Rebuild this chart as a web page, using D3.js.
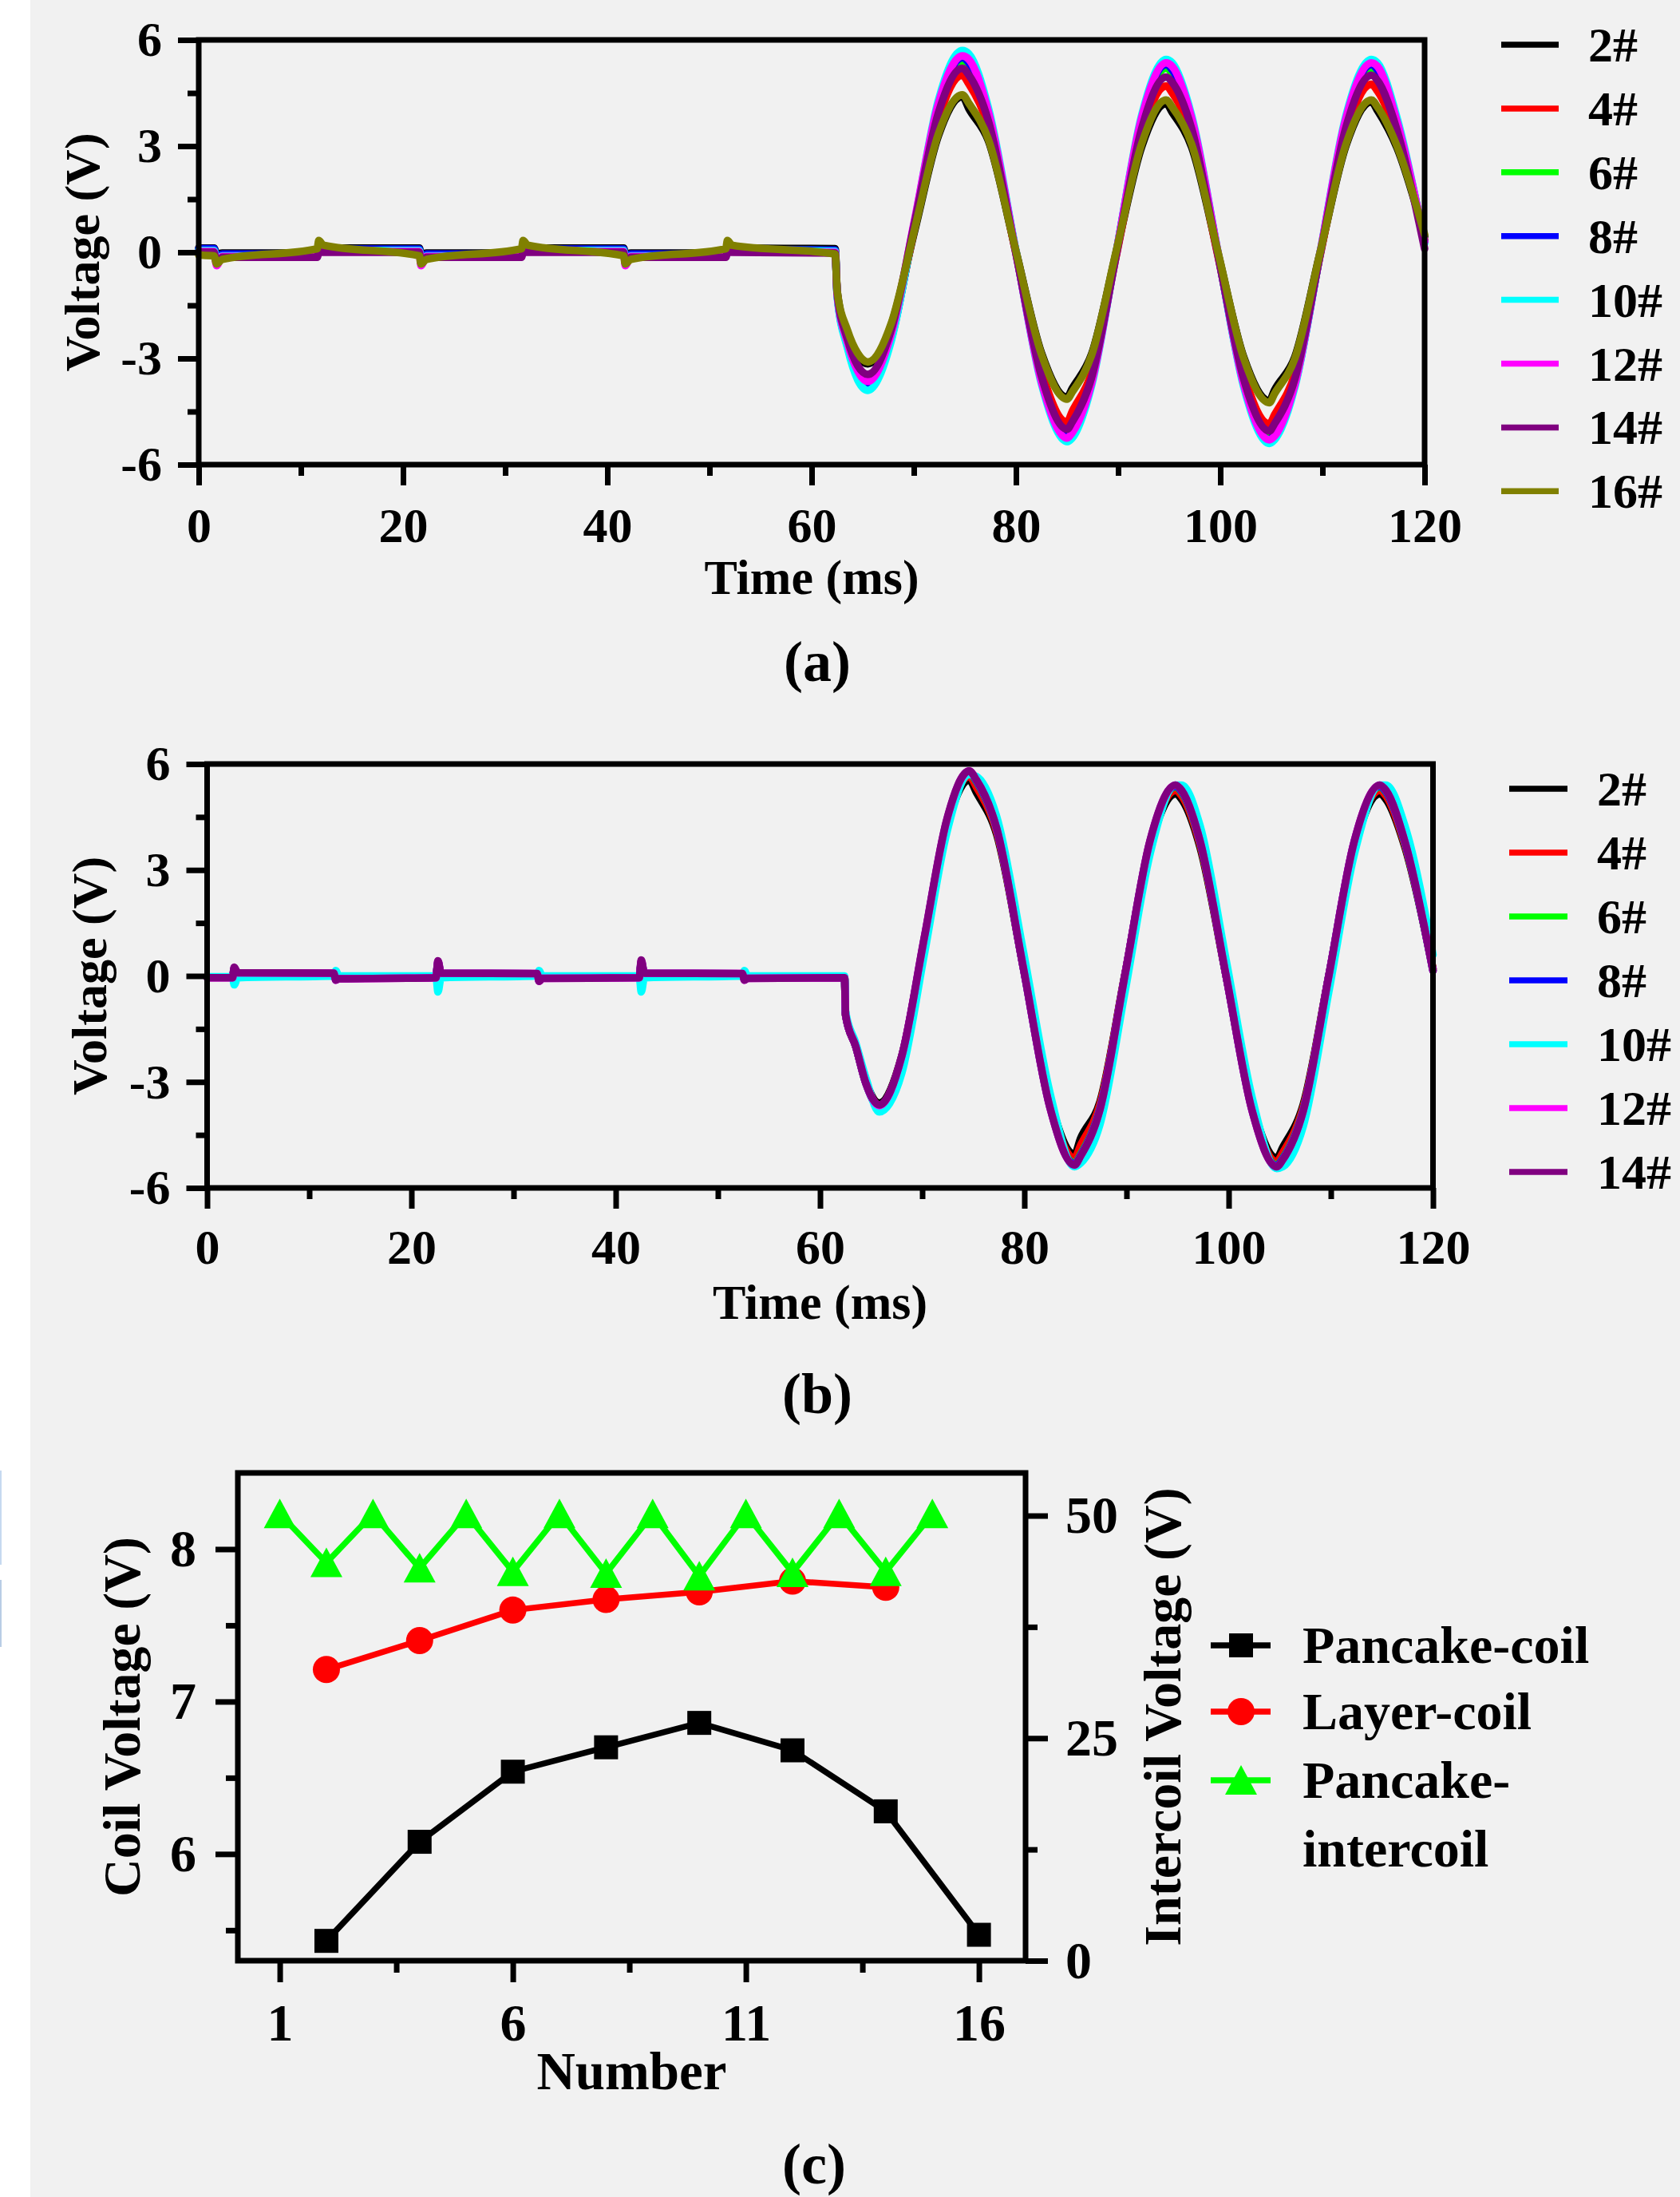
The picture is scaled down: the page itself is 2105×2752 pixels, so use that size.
<!DOCTYPE html>
<html>
<head>
<meta charset="utf-8">
<script src="https://cdn.jsdelivr.net/npm/d3@7"></script>
<style>
  body { margin: 0; background: #f1f1f1; }
  svg text { font-family: "Liberation Serif", "Times New Roman", serif; font-weight: bold; fill: #000; }
</style>
</head>
<body>
<svg id="fig" width="2105" height="2752"></svg>
<script>
/* DATA */
// coil labels of panels (a) and (b)
const coilsA = ["2#", "4#", "6#", "8#", "10#", "12#", "14#", "16#"];
const coilsB = ["2#", "4#", "6#", "8#", "10#", "12#", "14#"];

// panel (a): time (ms), flat part then the sine part
const timeA = [0, 1.5, 1.75, 2.3, 11.6, 11.75, 12.2, 21.6, 21.75, 22.3, 31.6, 31.75, 32.2, 41.6, 41.75, 42.3, 51.6, 51.75, 52.2, 62.3,
  62.5, 63.5, 64.5, 65.5, 67.8, 70.1, 72.4, 74.75, 75.4, 77.3, 79.9, 82.5, 85.0, 85.5, 87.4, 89.85, 92.3, 94.7, 95.3, 97.2, 99.75, 102.3, 104.8, 105.3, 107.3, 109.8, 112.3, 114.8, 115.4, 117.3, 120];

const vA2 = [0.12, 0.12, -0.05, -0.02, -0.02, 0.15, 0.12, 0.12, -0.05, -0.02, -0.02, 0.15, 0.12, 0.12, -0.05, -0.02, -0.02, 0.15, 0.12, 0.1,
  -1.1, -2.3, -2.95, -3.15, -2.04, 0.63, 3.29, 4.4, 4.05, 3.15, 0.15, -2.85, -4.1, -3.85, -2.88, 0.05, 2.98, 4.2, 3.95, 2.97, 0, -2.97, -4.2, -3.9, -2.96, 0.03, 3.01, 4.25, 4.0, 2.95, 0.45];
const vA4 = [0.06, 0.06, -0.12, -0.08, -0.08, 0.1, 0.06, 0.06, -0.12, -0.08, -0.08, 0.1, 0.06, 0.06, -0.12, -0.08, -0.08, 0.1, 0.06, 0.05,
  -1.15, -2.5, -3.3, -3.55, -2.3, 0.73, 3.75, 5.0, 4.75, 3.56, 0.1, -3.36, -4.8, -4.5, -3.41, -0.05, 3.31, 4.7, 4.5, 3.3, -0.08, -3.45, -4.85, -4.6, -3.44, -0.05, 3.34, 4.75, 4.55, 3.3, 0.35];
const vA6 = [0.08, 0.08, -0.15, -0.06, -0.06, 0.08, 0.08, 0.08, -0.15, -0.06, -0.06, 0.08, 0.08, 0.08, -0.15, -0.06, -0.06, 0.08, 0.08, 0.05,
  -1.2, -2.6, -3.45, -3.75, -2.41, 0.83, 4.06, 5.4, 5.25, 3.86, 0.15, -3.56, -5.1, -4.95, -3.59, 0.05, 3.69, 5.2, 5.05, 3.68, 0, -3.68, -5.2, -5.05, -3.68, 0, 3.68, 5.2, 5.05, 3.6, 0.3];
const vA8 = [0.1, 0.1, -0.15, -0.05, -0.05, 0.1, 0.09, 0.09, -0.15, -0.05, -0.05, 0.1, 0.09, 0.09, -0.15, -0.05, -0.05, 0.1, 0.09, 0.06,
  -1.2, -2.65, -3.5, -3.8, -2.44, 0.85, 4.14, 5.5, 5.35, 3.93, 0.15, -3.63, -5.2, -5.05, -3.66, 0.05, 3.76, 5.3, 5.15, 3.75, 0, -3.75, -5.3, -5.15, -3.75, 0, 3.75, 5.3, 5.15, 3.65, 0.3];
const vA10 = [0.05, 0.05, -0.18, -0.1, -0.1, 0.05, 0.05, 0.05, -0.18, -0.1, -0.1, 0.05, 0.05, 0.05, -0.18, -0.1, -0.1, 0.05, 0.05, 0.03,
  -1.25, -2.7, -3.6, -3.9, -2.49, 0.9, 4.29, 5.7, 5.6, 4.08, 0.18, -3.73, -5.35, -5.25, -3.77, 0.05, 3.87, 5.45, 5.35, 3.86, 0.03, -3.81, -5.4, -5.3, -3.81, 0.03, 3.86, 5.45, 5.35, 3.8, 0.25];
const vA12 = [0.02, 0.02, -0.38, -0.12, -0.12, 0.02, 0.02, 0.02, -0.38, -0.12, -0.12, 0.02, 0.02, 0.02, -0.38, -0.12, -0.12, 0.02, 0.02, 0.0,
  -1.2, -2.55, -3.35, -3.65, -2.3, 0.95, 4.2, 5.55, 5.45, 3.97, 0.15, -3.67, -5.25, -5.1, -3.7, 0.05, 3.8, 5.35, 5.25, 3.79, 0.03, -3.74, -5.3, -5.2, -3.74, 0.03, 3.79, 5.35, 5.25, 3.7, 0.3];
const vA14 = [0.0, 0.0, -0.3, -0.14, -0.14, 0.0, 0.0, 0.0, -0.3, -0.14, -0.14, 0.0, 0.0, 0.0, -0.3, -0.14, -0.14, 0.0, 0.0, -0.02,
  -1.15, -2.45, -3.2, -3.45, -2.18, 0.88, 3.93, 5.2, 5.0, 3.71, 0.1, -3.51, -5.0, -4.8, -3.54, -0.03, 3.49, 4.95, 4.8, 3.49, -0.05, -3.59, -5.05, -4.85, -3.58, -0.03, 3.53, 5.0, 4.85, 3.45, 0.1];
const vA16 = [-0.08, -0.1, -0.33, -0.2, 0.1, 0.33, 0.2, -0.1, -0.33, -0.2, 0.1, 0.33, 0.2, -0.1, -0.33, -0.2, 0.1, 0.33, 0.2, -0.05,
  -1.1, -2.2, -2.85, -3.1, -2.0, 0.68, 3.34, 4.45, 4.2, 3.19, 0.15, -2.89, -4.15, -3.95, -2.91, 0.08, 3.06, 4.3, 4.1, 3.05, 0.03, -3.0, -4.25, -4.0, -3.0, 0.03, 3.05, 4.3, 4.1, 3.0, 0.5];

// panel (b): time (ms)
const timeB = [0, 2.5, 2.65, 3.0, 12.4, 12.6, 12.9, 22.4, 22.6, 22.9, 32.3, 32.5, 32.8, 42.3, 42.5, 42.8, 52.4, 52.6, 52.9, 62.4,
  62.5, 63.5, 64.5, 65.8, 68.0, 70.2, 72.4, 74.6, 75.3, 77.3, 79.9, 82.5, 84.9, 85.5, 87.4, 89.85, 92.3, 94.8, 95.4, 97.2, 99.75, 102.3, 104.7, 105.3, 107.3, 109.8, 112.3, 114.8, 115.4, 117.3, 120];

const vB2 = [-0.03, -0.03, 0.2, 0.07, 0.06, -0.1, -0.06, -0.03, 0.35, 0.06, 0.05, -0.12, -0.05, -0.03, 0.35, 0.06, 0.05, -0.1, -0.05, -0.03,
  -1.1, -2.0, -3.0, -3.6, -2.26, 0.98, 4.21, 5.55, 5.2, 4.0, 0.25, -3.5, -5.05, -4.6, -3.56, 0.05, 3.66, 5.15, 5.0, 3.64, 0, -3.64, -5.15, -4.85, -3.64, 0, 3.64, 5.15, 5.0, 3.6, 0.2];
const vB4 = [-0.03, -0.03, 0.2, 0.07, 0.06, -0.1, -0.06, -0.03, 0.35, 0.06, 0.05, -0.12, -0.05, -0.03, 0.35, 0.06, 0.05, -0.1, -0.05, -0.03,
  -1.1, -2.0, -3.05, -3.65, -2.29, 1.0, 4.29, 5.65, 5.35, 4.07, 0.25, -3.57, -5.15, -4.8, -3.63, 0.05, 3.73, 5.25, 5.1, 3.71, 0, -3.71, -5.25, -5.0, -3.71, 0, 3.71, 5.25, 5.1, 3.65, 0.2];
const vB6 = [-0.04, -0.04, 0.2, 0.08, 0.07, -0.1, -0.07, -0.04, 0.38, 0.07, 0.06, -0.13, -0.06, -0.04, 0.38, 0.07, 0.06, -0.11, -0.06, -0.04,
  -1.1, -2.0, -3.05, -3.7, -2.32, 1.03, 4.37, 5.75, 5.5, 4.13, 0.23, -3.68, -5.3, -5.05, -3.74, 0.03, 3.79, 5.35, 5.2, 3.78, 0, -3.78, -5.35, -5.15, -3.78, 0, 3.78, 5.35, 5.2, 3.7, 0.15];
const vB8 = [-0.04, -0.04, 0.22, 0.08, 0.07, -0.11, -0.07, -0.04, 0.4, 0.07, 0.06, -0.14, -0.06, -0.04, 0.4, 0.07, 0.06, -0.11, -0.06, -0.04,
  -1.1, -2.0, -3.05, -3.7, -2.3, 1.04, 4.38, 5.78, 5.52, 4.15, 0.23, -3.7, -5.32, -5.08, -3.76, 0.03, 3.8, 5.37, 5.22, 3.8, 0, -3.8, -5.37, -5.17, -3.8, 0, 3.8, 5.37, 5.22, 3.72, 0.15];
const vB10 = [-0.02, -0.02, -0.25, -0.05, 0.0, 0.15, 0.0, 0.0, -0.45, -0.05, 0.0, 0.15, 0.0, 0.0, -0.45, -0.05, 0.0, 0.15, 0.0, 0.0,
  -1.0, -1.9, -2.9, -3.85, -2.75, 0.6, 4.05, 5.7, 5.65, 4.5, 0.7, -3.3, -5.4, -5.3, -4.2, -0.45, 3.45, 5.4, 5.4, 4.25, 0.45, -3.45, -5.45, -5.4, -4.25, -0.45, 3.45, 5.4, 5.4, 4.2, 0.6];
const vB12 = [-0.05, -0.05, 0.23, 0.09, 0.08, -0.12, -0.08, -0.05, 0.42, 0.08, 0.07, -0.15, -0.07, -0.05, 0.43, 0.08, 0.07, -0.12, -0.07, -0.05,
  -1.1, -2.0, -3.05, -3.67, -2.28, 1.07, 4.4, 5.8, 5.55, 4.16, 0.23, -3.72, -5.35, -5.1, -3.78, 0.03, 3.82, 5.4, 5.25, 3.82, 0, -3.82, -5.4, -5.2, -3.82, 0, 3.82, 5.4, 5.25, 3.75, 0.15];
const vB14 = [-0.05, -0.05, 0.25, 0.09, 0.08, -0.12, -0.08, -0.05, 0.43, 0.08, 0.07, -0.15, -0.07, -0.05, 0.45, 0.08, 0.07, -0.12, -0.07, -0.05,
  -1.1, -2.0, -3.05, -3.65, -2.27, 1.08, 4.42, 5.8, 5.55, 4.17, 0.23, -3.72, -5.35, -5.1, -3.78, 0.03, 3.83, 5.4, 5.25, 3.82, 0, -3.82, -5.4, -5.2, -3.82, 0, 3.82, 5.4, 5.25, 3.75, 0.15];

// panel (c)
const numPancake = [2, 4, 6, 8, 10, 12, 14, 16];
const pancakeCoil = [5.43, 6.08, 6.54, 6.70, 6.86, 6.68, 6.28, 5.47];
const numLayer = [2, 4, 6, 8, 10, 12, 14];
const layerCoil = [7.21, 7.40, 7.60, 7.67, 7.72, 7.79, 7.75];
const numInter = [1, 2, 3, 4, 5, 6, 7, 8, 9, 10, 11, 12, 13, 14, 15];
const pancakeIntercoil = [50.2, 44.7, 50.2, 44.1, 50.2, 43.7, 50.2, 43.5, 50.2, 43.2, 50.2, 43.6, 50.2, 43.7, 50.2];
const legendC = ["Pancake-coil", "Layer-coil", "Pancake-", "intercoil"];

// tick values
const voltTicks = [-6, -3, 0, 3, 6], voltMinor = [-4.5, -1.5, 1.5, 4.5];
const timeTicks = [0, 20, 40, 60, 80, 100, 120], timeMinor = [10, 30, 50, 70, 90, 110];
const numTicks = [1, 6, 11, 16], numMinor = [3.5, 8.5, 13.5];
const coilTicks = [6, 7, 8], coilMinor = [5.5, 6.5, 7.5];
const interTicks = [0, 25, 50], interMinor = [12.5, 37.5];

/* STYLES */
const traceColors = ["#000000", "#ff0000", "#00ff00", "#0000ff", "#00ffff", "#ff00ff", "#800080", "#808000"];
const AXIS_W = 7, TRACE_W = 9.5, LINE_C = 7.5;

const svg = d3.select("#fig");

// page background: white strip on the left, grey elsewhere
svg.append("rect").attr("width", 2105).attr("height", 2752).attr("fill", "#f1f1f1");
svg.append("rect").attr("width", 38).attr("height", 2752).attr("fill", "#ffffff");
svg.append("rect").attr("x", 0).attr("y", 1842).attr("width", 2).attr("height", 118).attr("fill", "#c6d9f0");
svg.append("rect").attr("x", 0).attr("y", 1979).attr("width", 2).attr("height", 84).attr("fill", "#b9cde5");

function styleAxis(g, fs) {
  g.select(".domain").remove();
  g.selectAll(".tick line").attr("stroke", "#000").attr("stroke-width", AXIS_W);
  g.selectAll(".tick text").style("font-size", fs + "px").attr("fill", "#000");
}

function frame(box) {
  svg.append("rect")
    .attr("x", box.left).attr("y", box.top)
    .attr("width", box.right - box.left).attr("height", box.bottom - box.top)
    .attr("fill", "none").attr("stroke", "#000").attr("stroke-width", AXIS_W);
}

// VOLTAGE PANELS (a) and (b)
function voltagePanel(box, time, series, names, opt) {
  const x = d3.scaleLinear([0, 120], [box.left, box.right]);
  const y = d3.scaleLinear([-6, 6], [box.bottom, box.top]);

  const line = d3.line()
    .x((d, i) => x(time[i]))
    .y(d => y(d))
    .curve(d3.curveMonotoneX);

  svg.append("g").selectAll("path")
    .data(series)
    .join("path")
    .attr("d", d => line(d))
    .attr("fill", "none")
    .attr("stroke", (d, i) => traceColors[i])
    .attr("stroke-width", TRACE_W)
    .attr("stroke-linejoin", "round")
    .attr("stroke-linecap", "round");

  // axes
  svg.append("g").attr("transform", `translate(${box.left},0)`)
    .call(d3.axisLeft(y).tickValues(voltTicks).tickSize(26).tickPadding(20).tickFormat(String))
    .call(g => styleAxis(g, 62));
  svg.append("g").attr("transform", `translate(${box.left},0)`)
    .call(d3.axisLeft(y).tickValues(voltMinor).tickSize(14).tickFormat(""))
    .call(g => styleAxis(g, 62));
  svg.append("g").attr("transform", `translate(0,${box.bottom})`)
    .call(d3.axisBottom(x).tickValues(timeTicks).tickSize(26).tickPadding(opt.xPad).tickFormat(String))
    .call(g => styleAxis(g, 62));
  svg.append("g").attr("transform", `translate(0,${box.bottom})`)
    .call(d3.axisBottom(x).tickValues(timeMinor).tickSize(14).tickFormat(""))
    .call(g => styleAxis(g, 62));

  frame(box);

  // axis titles
  svg.append("text")
    .attr("x", (box.left + box.right) / 2).attr("y", opt.xTitleY)
    .attr("text-anchor", "middle").style("font-size", "62px")
    .text("Time (ms)");
  svg.append("text")
    .attr("transform", `translate(${opt.yTitleX},${(box.top + box.bottom) / 2}) rotate(-90)`)
    .attr("text-anchor", "middle").style("font-size", "62px")
    .text("Voltage (V)");

  // legend
  const leg = svg.append("g").selectAll("g")
    .data(names)
    .join("g")
    .attr("transform", (d, i) => `translate(0,${opt.legY0 + i * opt.legStep})`);
  leg.append("line")
    .attr("x1", opt.legX1).attr("x2", opt.legX2)
    .attr("stroke", (d, i) => traceColors[i]).attr("stroke-width", 7.5);
  leg.append("text")
    .attr("x", opt.legText).attr("dy", "0.34em")
    .style("font-size", "62px")
    .text(d => d);

  svg.append("text")
    .attr("x", 1024).attr("y", opt.tagY)
    .attr("text-anchor", "middle").style("font-size", "72px")
    .text(opt.tag);
}

voltagePanel({ left: 249, right: 1785, top: 50, bottom: 582 }, timeA,
  [vA2, vA4, vA6, vA8, vA10, vA12, vA14, vA16], coilsA,
  { xPad: 27, xTitleY: 744, yTitleX: 124, legY0: 56, legStep: 79.9, legX1: 1881, legX2: 1953, legText: 1990, tagY: 853, tag: "(a)" });

voltagePanel({ left: 259.5, right: 1795.5, top: 957, bottom: 1488 }, timeB,
  [vB2, vB4, vB6, vB8, vB10, vB12, vB14], coilsB,
  { xPad: 25, xTitleY: 1652, yTitleX: 133, legY0: 988, legStep: 80, legX1: 1891, legX2: 1964, legText: 2001, tagY: 1770, tag: "(b)" });

// PANEL (c)
const boxC = { left: 298, right: 1285, top: 1845, bottom: 2456 };
const xC = d3.scaleLinear([0.1, 17], [boxC.left, boxC.right]);
const yL = d3.scaleLinear([5.3, 8.5], [boxC.bottom, boxC.top]);
const yR = d3.scaleLinear([0, 54.8], [boxC.bottom, boxC.top]);

svg.append("g").attr("transform", `translate(${boxC.left},0)`)
  .call(d3.axisLeft(yL).tickValues(coilTicks).tickSize(28).tickPadding(24).tickFormat(String))
  .call(g => styleAxis(g, 66));
svg.append("g").attr("transform", `translate(${boxC.left},0)`)
  .call(d3.axisLeft(yL).tickValues(coilMinor).tickSize(15).tickFormat(""))
  .call(g => styleAxis(g, 66));
svg.append("g").attr("transform", `translate(${boxC.right},0)`)
  .call(d3.axisRight(yR).tickValues(interTicks).tickSize(28).tickPadding(22).tickFormat(String))
  .call(g => styleAxis(g, 66));
svg.append("g").attr("transform", `translate(${boxC.right},0)`)
  .call(d3.axisRight(yR).tickValues(interMinor).tickSize(15).tickFormat(""))
  .call(g => styleAxis(g, 66));
svg.append("g").attr("transform", `translate(0,${boxC.bottom})`)
  .call(d3.axisBottom(xC).tickValues(numTicks).tickSize(27).tickPadding(26).tickFormat(String))
  .call(g => styleAxis(g, 66));
svg.append("g").attr("transform", `translate(0,${boxC.bottom})`)
  .call(d3.axisBottom(xC).tickValues(numMinor).tickSize(15).tickFormat(""))
  .call(g => styleAxis(g, 66));

frame(boxC);

const lineL = d3.line().x((d, i) => xC(numPancake[i])).y(d => yL(d));
const lineLayer = d3.line().x((d, i) => xC(numLayer[i])).y(d => yL(d));
const lineInter = d3.line().x((d, i) => xC(numInter[i])).y(d => yR(d));

// pancake-coil
svg.append("path").attr("d", lineL(pancakeCoil))
  .attr("fill", "none").attr("stroke", "#000").attr("stroke-width", LINE_C);
svg.append("g").selectAll("rect")
  .data(pancakeCoil)
  .join("rect")
  .attr("x", (d, i) => xC(numPancake[i]) - 15)
  .attr("y", d => yL(d) - 15)
  .attr("width", 30).attr("height", 30)
  .attr("fill", "#000");

// layer-coil
svg.append("path").attr("d", lineLayer(layerCoil))
  .attr("fill", "none").attr("stroke", "#ff0000").attr("stroke-width", LINE_C);
svg.append("g").selectAll("circle")
  .data(layerCoil)
  .join("circle")
  .attr("cx", (d, i) => xC(numLayer[i]))
  .attr("cy", d => yL(d))
  .attr("r", 17)
  .attr("fill", "#ff0000");

// pancake-intercoil (right axis)
const tri = (cx, cy) => `M${cx},${cy - 19}L${cx + 20},${cy + 18}L${cx - 20},${cy + 18}Z`;
svg.append("path").attr("d", lineInter(pancakeIntercoil))
  .attr("fill", "none").attr("stroke", "#00ff00").attr("stroke-width", LINE_C);
svg.append("g").selectAll("path")
  .data(pancakeIntercoil)
  .join("path")
  .attr("d", (d, i) => tri(xC(numInter[i]), yR(d)))
  .attr("fill", "#00ff00");

// titles
svg.append("text")
  .attr("x", (boxC.left + boxC.right) / 2).attr("y", 2617)
  .attr("text-anchor", "middle").style("font-size", "67px")
  .text("Number");
svg.append("text")
  .attr("transform", `translate(175,${(boxC.top + boxC.bottom) / 2}) rotate(-90)`)
  .attr("text-anchor", "middle").style("font-size", "66px")
  .text("Coil Voltage (V)");
svg.append("text")
  .attr("transform", `translate(1479,${(boxC.top + boxC.bottom) / 2}) rotate(-90)`)
  .attr("text-anchor", "middle").style("font-size", "66px")
  .text("Intercoil Voltage (V)");

// legend (c)
const legC = svg.append("g");
const legRows = [2061, 2144, 2230];
legC.append("line").attr("x1", 1517).attr("x2", 1592).attr("y1", legRows[0]).attr("y2", legRows[0])
  .attr("stroke", "#000").attr("stroke-width", LINE_C);
legC.append("rect").attr("x", 1555 - 15).attr("y", legRows[0] - 15).attr("width", 30).attr("height", 30).attr("fill", "#000");
legC.append("line").attr("x1", 1517).attr("x2", 1592).attr("y1", legRows[1]).attr("y2", legRows[1])
  .attr("stroke", "#ff0000").attr("stroke-width", LINE_C);
legC.append("circle").attr("cx", 1555).attr("cy", legRows[1]).attr("r", 17).attr("fill", "#ff0000");
legC.append("line").attr("x1", 1517).attr("x2", 1592).attr("y1", legRows[2]).attr("y2", legRows[2])
  .attr("stroke", "#00ff00").attr("stroke-width", LINE_C);
legC.append("path").attr("d", tri(1555, legRows[2])).attr("fill", "#00ff00");

legC.selectAll("text")
  .data(legendC)
  .join("text")
  .attr("x", 1632)
  .attr("y", (d, i) => i < 3 ? legRows[i] : 2316)
  .attr("dy", "0.33em")
  .style("font-size", "66px")
  .text(d => d);

svg.append("text")
  .attr("x", 1020).attr("y", 2735)
  .attr("text-anchor", "middle").style("font-size", "72px")
  .text("(c)");
</script>
</body>
</html>
